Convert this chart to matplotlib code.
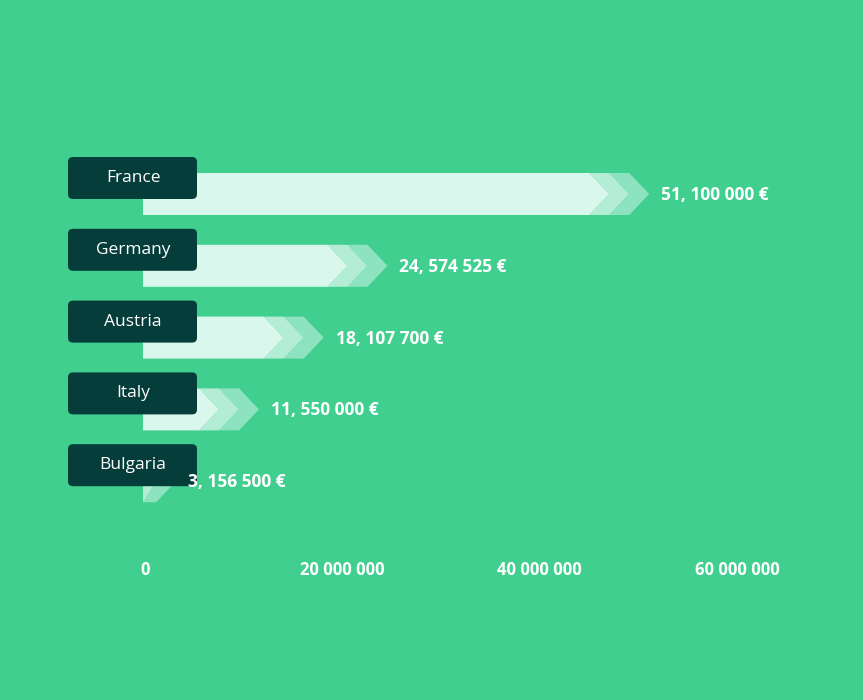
import matplotlib
matplotlib.use("Agg")
import matplotlib.pyplot as plt
from matplotlib.patches import Polygon, FancyBboxPatch

countries = ["France", "Germany", "Austria", "Italy", "Bulgaria"]
values = [51100000, 24574525, 18107700, 11550000, 3156500]
value_labels = ["51, 100 000 €", "24, 574 525 €", "18, 107 700 €", "11, 550 000 €", "3, 156 500 €"]
ticks = [0, 20000000, 40000000, 60000000]
tick_labels = ["0", "20 000 000", "40 000 000", "60 000 000"]

BG = "#41cf8f"
fig = plt.figure(figsize=(8.63, 7.0), dpi=100, facecolor=BG)
ax = fig.add_axes([145/863, 0, (737-145)/863, 1])
ax.set_facecolor(BG)
ax.set_xlim(0, 60e6)
ax.set_ylim(700, 0)
ax.axis("off")
px = 60e6 / (737-145)  # data units per pixel
FONT = "Open Sans"
x0 = -2*px
for i, (c, v, lab) in enumerate(zip(countries, values, value_labels)):
    yc = 194 + 71.8*i
    h = 21
    tipw = 20*px
    gap = 20*px
    cols = ["#8de3bf", "#b3edd5", "#d9f7ec"]
    for k, col in enumerate(cols):
        t = v - k*gap
        if k < 2:
            start = t - tipw - gap
            poly = [(start, yc-h), (t-tipw, yc-h), (t, yc), (t-tipw, yc+h), (start, yc+h), (start+tipw, yc)]
        else:
            poly = [(x0, yc-h), (t-tipw, yc-h), (t, yc), (t-tipw, yc+h), (x0, yc+h)]
        poly = [(max(x, x0), y) for x, y in poly]
        ax.add_patch(Polygon(poly, closed=True, facecolor=col, edgecolor="none", clip_on=False))
    ax.text(v + 12*px, yc+1, lab, color="white", fontsize=12.5, fontweight="bold",
            va="center", ha="left", family=FONT, zorder=5)
    by = yc - 16
    ax.add_patch(FancyBboxPatch((-77*px, by-21), 129*px, 42,
                                boxstyle="round,pad=0,rounding_size=%g" % (5*px),
                                mutation_aspect=1/px, facecolor="#053d3a", edgecolor="none",
                                clip_on=False, zorder=3))
    ax.text(-12*px, by, c, color="white", fontsize=12.5, va="center", ha="center",
            family=FONT, zorder=4)
for t, tl in zip(ticks, tick_labels):
    ax.text(t, 570, tl, color="white", fontsize=12, fontweight="bold", ha="center", va="center", family=FONT)
fig.savefig("out.png", dpi=100, facecolor=BG)
